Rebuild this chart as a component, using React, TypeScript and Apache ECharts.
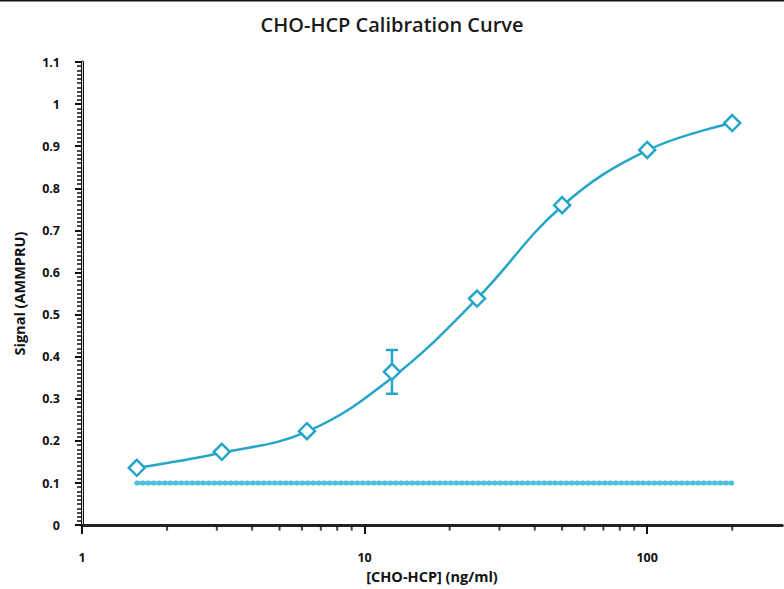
import React, { useEffect, useRef } from "react";
import * as echarts from "echarts";

// Measured calibration points (concentration ng/ml, signal)
const concentrations = [1.5625, 3.125, 6.25, 12.5, 25, 50, 100, 200];
const signals = [0.136, 0.174, 0.223, 0.364, 0.538, 0.76, 0.891, 0.955];

// Error bar (concentration, low, high)
const errorConc = [12.5];
const errorLow = [0.312];
const errorHigh = [0.416];

// Fitted curve
const fitConc = [1.5625, 3.125, 6.25, 12.5, 25, 50, 100, 200];
const fitSignal = [0.136, 0.172, 0.222, 0.35, 0.538, 0.758, 0.89, 0.955];

// Blank / background line
const blankConc = [1.5625, 200];
const blankSignal = [0.1, 0.1];

// Minor ticks on the log x axis
const xMinorTicks = [2, 3, 4, 5, 6, 7, 8, 9, 20, 30, 40, 50, 60, 70, 80, 90, 200];

const CURVE = "#26a6c6";
const BLANK = "#4fbfdc";
const FONT = "'Open Sans', 'DejaVu Sans', sans-serif";

export default function App() {
  const ref = useRef<HTMLDivElement>(null);

  useEffect(() => {
    if (!ref.current) return;
    const chart = echarts.init(ref.current, null, { renderer: "svg" });

    const labelStyle = { fontFamily: FONT, fontWeight: 700, fontSize: 12.5, color: "#111" };

    chart.setOption({
      animation: false,
      backgroundColor: "#fff",
      title: {
        text: "CHO-HCP Calibration Curve",
        left: "center",
        top: 9,
        textStyle: { fontFamily: FONT, fontWeight: 600, fontSize: 20, color: "#1a1a1a" },
      },
      graphic: [
        {
          type: "line",
          shape: { x1: 0, y1: 0.5, x2: 784, y2: 0.5 },
          style: { stroke: "#111", lineWidth: 2 },
        },
      ],
      grid: { left: 82, right: 2, top: 62, bottom: 58 },
      xAxis: [
        {
          type: "log",
          logBase: 10,
          min: 1,
          max: 300,
          name: "[CHO-HCP] (ng/ml)",
          nameLocation: "middle",
          nameGap: 40,
          nameTextStyle: { ...labelStyle, fontSize: 14.5 },
          axisLine: { show: true, onZero: false, lineStyle: { color: "#111", width: 3 } },
          axisTick: { show: true, length: 9, lineStyle: { color: "#111", width: 2 } },
          axisLabel: {
            ...labelStyle,
            margin: 26,
            showMaxLabel: false,
            formatter: (v: number) => ([1, 10, 100].includes(Math.round(v)) ? String(Math.round(v)) : ""),
          },
          splitLine: { show: false },
          minorSplitLine: { show: false },
        },
        {
          type: "value",
          position: "top",
          min: 0,
          max: 1,
          axisLine: { show: true, lineStyle: { color: "#222", width: 3 } },
          axisTick: { show: false },
          axisLabel: { show: false },
          splitLine: { show: false },
        },
      ],
      yAxis: [
        {
          type: "value",
          min: 0,
          max: 1.1,
          interval: 0.1,
          name: "Signal (AMMPRU)",
          nameLocation: "middle",
          nameGap: 55,
          nameTextStyle: { ...labelStyle, fontSize: 14.5 },
          axisLine: { show: true, onZero: false, lineStyle: { color: "#111", width: 3 } },
          axisTick: { show: true, length: 7, lineStyle: { color: "#111", width: 2 } },
          minorTick: { show: true, splitNumber: 10, length: 5, lineStyle: { color: "#111", width: 1.5 } },
          axisLabel: {
            ...labelStyle,
            margin: 22,
            formatter: (v: number) => String(Math.round(v * 10) / 10),
          },
          splitLine: { show: false },
          minorSplitLine: { show: false },
        },
        {
          type: "value",
          position: "right",
          min: 0,
          max: 1,
          axisLine: { show: true, lineStyle: { color: "#d8d8d8", width: 1 } },
          axisTick: { show: false },
          axisLabel: { show: false },
          splitLine: { show: false },
        },
      ],
      series: [
        {
          name: "minor ticks",
          type: "scatter",
          xAxisIndex: 0,
          yAxisIndex: 0,
          data: xMinorTicks.map((t) => [t, 0]),
          symbol: "rect",
          symbolSize: [2, 5],
          symbolOffset: [0, 3],
          clip: false,
          silent: true,
          itemStyle: { color: "#111" },
          z: 1,
        },
        {
          name: "blank",
          type: "line",
          data: blankConc.map((c, i) => [c, blankSignal[i]]),
          showSymbol: false,
          symbol: "none",
          lineStyle: { color: BLANK, width: 5, type: [1, 4.5], cap: "round" },
          z: 2,
        },
        {
          name: "fit",
          type: "line",
          data: fitConc.map((c, i) => [c, fitSignal[i]]),
          smooth: 0.4,
          showSymbol: false,
          symbol: "none",
          lineStyle: { color: CURVE, width: 2.5 },
          z: 3,
        },
        {
          name: "error",
          type: "custom",
          data: errorConc.map((c, i) => [c, errorLow[i], errorHigh[i]]),
          encode: { x: 0, y: [1, 2] },
          renderItem: (params: any, api: any) => {
            const x = api.value(0);
            const pLo = api.coord([x, api.value(1)]);
            const pHi = api.coord([x, api.value(2)]);
            const w = 6;
            const style = { stroke: CURVE, lineWidth: 2.5 };
            return {
              type: "group",
              children: [
                { type: "line", shape: { x1: pLo[0], y1: pLo[1], x2: pHi[0], y2: pHi[1] }, style },
                { type: "line", shape: { x1: pLo[0] - w, y1: pLo[1], x2: pLo[0] + w, y2: pLo[1] }, style },
                { type: "line", shape: { x1: pHi[0] - w, y1: pHi[1], x2: pHi[0] + w, y2: pHi[1] }, style },
              ],
            };
          },
          z: 4,
        },
        {
          name: "points",
          type: "line",
          data: concentrations.map((c, i) => [c, signals[i]]),
          lineStyle: { width: 0, opacity: 0 },
          symbol: "diamond",
          symbolSize: 16,
          showSymbol: true,
          itemStyle: { color: "#fff", borderColor: CURVE, borderWidth: 2.5 },
          z: 5,
        },
      ],
    });

    return () => chart.dispose();
  }, []);

  return (
    <div
      ref={ref}
      style={{ position: "absolute", left: 0, top: 0, width: 784, height: 589 }}
    />
  );
}
